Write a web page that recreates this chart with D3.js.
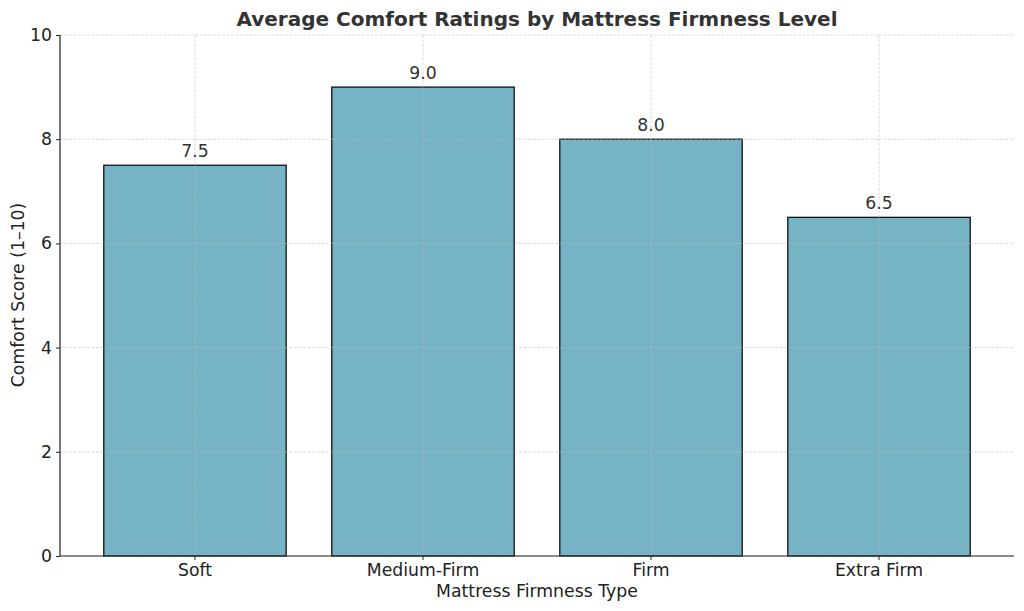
<!DOCTYPE html>
<html><head><meta charset="utf-8">
<script src="https://cdn.jsdelivr.net/npm/d3@7"></script>
<style>body{margin:0;background:#fff}svg{display:block;font-family:"DejaVu Sans",sans-serif}</style>
</head><body><svg id="c" width="1024" height="611"></svg>
<script>
const categories = ["Soft", "Medium-Firm", "Firm", "Extra Firm"];
const values = [7.5, 9.0, 8.0, 6.5];
const yTicks = [0, 2, 4, 6, 8, 10];

const svg = d3.select("#c");
const L = 60, R = 1014, T = 35, B = 556;
const FS = 17.3;
const x = d3.scaleBand().domain(categories).range([L, R]).paddingInner(0.2).paddingOuter(0.192);
const y = d3.scaleLinear().domain([0, 10]).range([B, T]);

// bars
svg.append("g").selectAll("rect").data(values).join("rect")
  .attr("x", (d, i) => x(categories[i]))
  .attr("y", d => y(d))
  .attr("width", x.bandwidth())
  .attr("height", d => y(0) - y(d))
  .attr("fill", "#76b3c5")
  .attr("stroke", "#111")
  .attr("stroke-width", 1.3);

// grid (on top)
const grid = svg.append("g").attr("stroke", "#bbb").attr("stroke-opacity", 0.7)
  .attr("stroke-width", 0.8).attr("stroke-dasharray", "3,1.5");
grid.selectAll("line.h").data(yTicks).join("line").attr("class", "h")
  .attr("x1", L).attr("x2", R).attr("y1", d => y(d)).attr("y2", d => y(d));
grid.selectAll("line.v").data(categories).join("line").attr("class", "v")
  .attr("x1", d => x(d) + x.bandwidth() / 2).attr("x2", d => x(d) + x.bandwidth() / 2)
  .attr("y1", T).attr("y2", B);

// value labels
svg.append("g").selectAll("text").data(values).join("text")
  .attr("x", (d, i) => x(categories[i]) + x.bandwidth() / 2)
  .attr("y", d => y(d) - 8)
  .attr("text-anchor", "middle").attr("font-size", FS).attr("fill", "#333")
  .text(d => d.toFixed(1));

// axes
const yAxis = svg.append("g").attr("transform", `translate(${L},0)`)
  .call(d3.axisLeft(y).tickValues(yTicks).tickSize(4).tickPadding(4).tickFormat(d3.format("d")));
const xAxis = svg.append("g").attr("transform", `translate(0,${B})`)
  .call(d3.axisBottom(x).tickSize(4).tickPadding(4));
[yAxis, xAxis].forEach(a => {
  a.select(".domain").attr("stroke", "#222").attr("stroke-width", 1.2);
  a.selectAll(".tick line").attr("stroke", "#222").attr("stroke-width", 1);
  a.selectAll(".tick text").attr("font-size", FS).attr("fill", "#222").attr("font-family", "DejaVu Sans");
});
yAxis.select(".domain").attr("d", `M0,${B}V${T}`);
xAxis.select(".domain").attr("d", `M${L},0H${R}`);

// titles
svg.append("text").attr("x", 537).attr("y", 26).attr("text-anchor", "middle")
  .attr("font-size", 20).attr("font-weight", "bold").attr("fill", "#333")
  .text("Average Comfort Ratings by Mattress Firmness Level");
svg.append("text").attr("x", 537).attr("y", 597).attr("text-anchor", "middle")
  .attr("font-size", FS).attr("fill", "#222").text("Mattress Firmness Type");
svg.append("text").attr("transform", "translate(24,295) rotate(-90)").attr("text-anchor", "middle")
  .attr("font-size", FS).attr("fill", "#222").text("Comfort Score (1–10)");
</script></body></html>
